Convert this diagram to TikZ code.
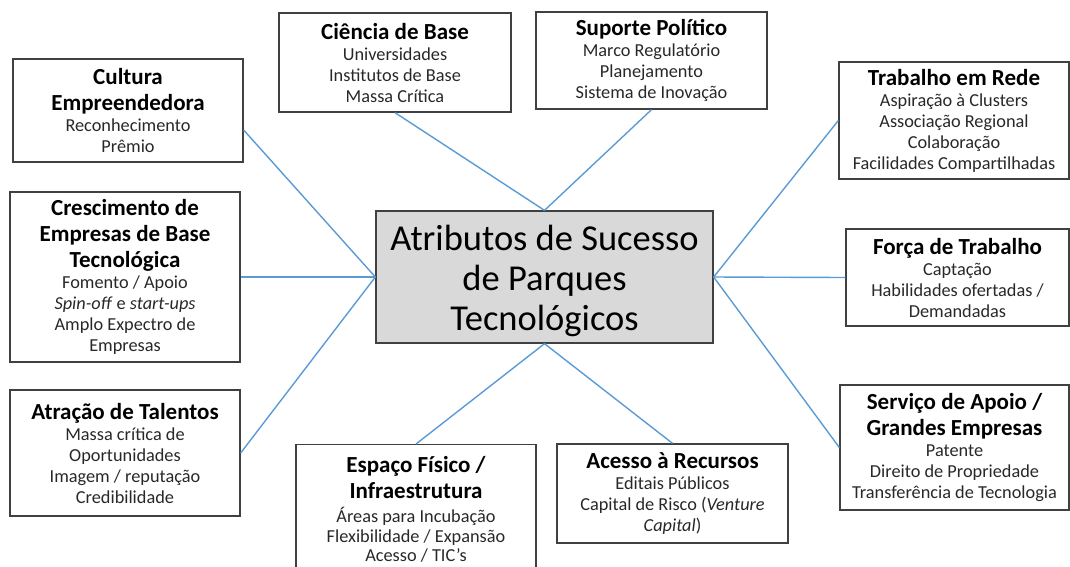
\documentclass[tikz,border=0pt]{standalone}
\usepackage{fontspec}
\setmainfont{Carlito}
\usetikzlibrary{positioning}
\definecolor{linkblue}{RGB}{91,155,213}
\definecolor{boxline}{RGB}{64,64,64}
\definecolor{centergray}{RGB}{217,217,217}
\definecolor{subtext}{RGB}{40,40,40}
\newcommand{\hd}[1]{{\fontsize{23}{25.5}\selectfont\bfseries\color{black}#1}}

\begin{document}
\lineskiplimit=-20pt
\begin{tikzpicture}[x=1pt,y=-1pt,
  attr/.style={draw=boxline,line width=1.3pt,align=center,inner sep=2pt,text=subtext,
    font=\fontsize{18.3}{21}\selectfont},
  link/.style={draw=linkblue,line width=1.4pt}]
\useasboundingbox (0,0) rectangle (1070,566);
\clip (0,0) rectangle (1070,566);
% centre
\node (main) [draw=boxline,line width=1.3pt,fill=centergray,align=center,
  minimum width=337pt,minimum height=132pt,font=\fontsize{36.5}{40}\selectfont]
  at (544.5,277) {\rule{0pt}{34pt}Atributos de Sucesso\\de Parques\\Tecnológicos};
% top
\node (cien) [attr,minimum width=232pt,minimum height=99pt] at (395,62.5)
  {\hd{Ciência de Base}\\Universidades\\Institutos de Base\\Massa Crítica};
\node (supo) [attr,minimum width=231pt,minimum height=97pt] at (651.5,60.5)
  {\hd{Suporte Político}\\Marco Regulatório\\Planejamento\\Sistema de Inovação};
% left
\node (cult) [attr,minimum width=230pt,minimum height=103pt] at (128,110.5)
  {\hd{Cultura}\\[5pt]\hd{Empreendedora}\\Reconhecimento\\Prêmio};
\node (cresc) [attr,minimum width=230pt,minimum height=170pt] at (125,277)
  {\hd{Crescimento de}\\[5pt]\hd{Empresas de Base}\\[5pt]\hd{Tecnológica}\\
   Fomento / Apoio\\\textit{Spin-off} e \textit{start-ups}\\Amplo Expectro de\\Empresas};
\node (atra) [attr,minimum width=230pt,minimum height=126pt] at (125,453)
  {\hd{Atração de Talentos}\\Massa crítica de\\Oportunidades\\Imagem / reputação\\Credibilidade};
% bottom
\node (espa) [attr,minimum width=240pt,inner ysep=12pt,anchor=north] at (416,444)
  {\hd{Espaço Físico /}\\[5pt]\hd{Infraestrutura}\\[3pt]Áreas para Incubação\\[-1.5pt]Flexibilidade / Expansão\\[-2pt]Acesso / TIC’s};
\node (aces) [attr,minimum width=231pt,minimum height=99pt] at (672.5,493.5)
  {\hd{Acesso à Recursos}\\Editais Públicos\\Capital de Risco (\textit{Venture}\\\textit{Capital})};
% right
\node (rede) [attr,minimum width=230pt,minimum height=117pt] at (954,120.5)
  {\hd{Trabalho em Rede}\\Aspiração à Clusters\\Associação Regional\\Colaboração\\Facilidades Compartilhadas};
\node (forc) [attr,minimum width=223pt,minimum height=97pt] at (957.5,277.5)
  {\hd{Força de Trabalho}\\Captação\\Habilidades ofertadas /\\Demandadas};
\node (serv) [attr,minimum width=229pt,minimum height=125pt] at (954.5,447.5)
  {\hd{Serviço de Apoio /}\\[5pt]\hd{Grandes Empresas}\\Patente\\Direito de Propriedade\\Transferência de Tecnologia};
%
\path[link] (main.north) edge (cien.south);
\path[link] (main.north) edge (supo.south);
\path[link] (main.west) edge ([yshift=-19.5pt]cult.east);
\path[link] (main.west) edge (cresc.east);
\path[link] (main.west) edge (atra.east);
\path[link] (main.south) edge (espa.north);
\path[link] (main.south) edge (aces.north);
\path[link] (main.east) edge (rede.west);
\path[link] (main.east) edge (forc.west);
\path[link] (main.east) edge (serv.west);
\end{tikzpicture}
\end{document}
